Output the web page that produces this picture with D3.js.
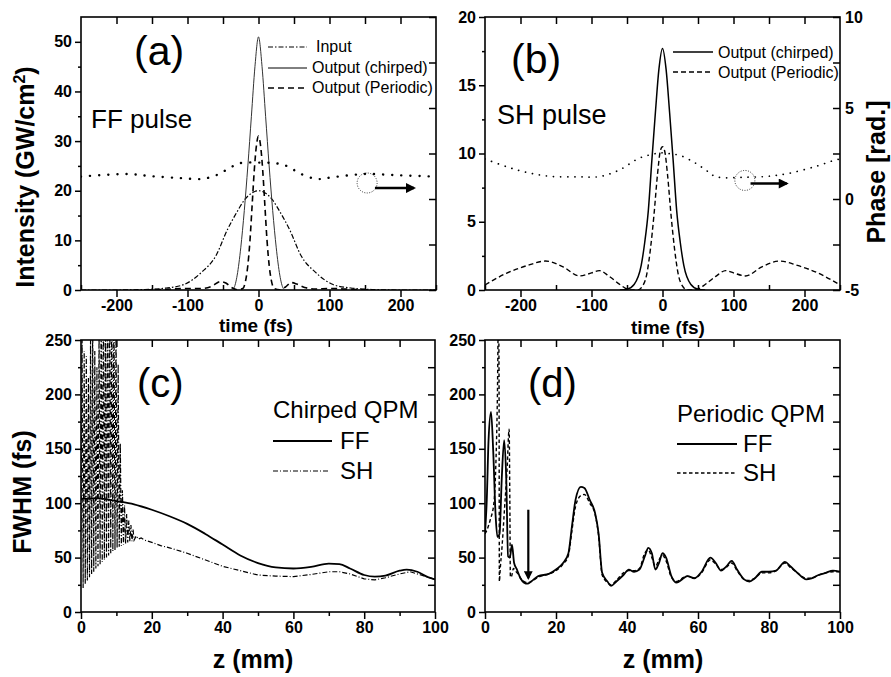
<!DOCTYPE html>
<html>
<head>
<meta charset="utf-8">
<script src="https://cdn.jsdelivr.net/npm/d3@7"></script>
<style>
  body { margin: 0; background: #fff; }
  svg { display: block; font-family: Arial, "Liberation Sans", sans-serif; }
</style>
</head>
<body>
<svg id="chart" width="891" height="677"></svg>
<script>
// ---------- Daten ----------
// (a) FF-Puls: Zeit in fs, Intensität in GW/cm², Phase in rad
const inputT  = [-250,-200,-160,-130,-105,-80,-60,-44,-30,-20,-10,0,10,20,30,44,60,80,105,130,160,200,250];
const inputI  = [0,0,0.1,0.4,1.1,3.6,6.9,12.1,15.8,18.1,19.5,20,19.5,18.1,15.8,12.1,6.9,3.6,1.1,0.4,0.1,0,0];
const ffChirpT = [-45,-38,-35,-30,-25,-20,-15,-10,-5,0,5,10,15,20,25,30,35,38,45];
const ffChirpI = [0,0,0.3,3,8.5,16,25,35,45,51,45,35,25,16,8.5,3,0.3,0,0];
const ffPerT  = [-160,-130,-100,-80,-65,-54,-46,-38,-30,-22,-18,-15,-12,-9,-6,-3,0,3,6,9,12,15,18,22,30,38,46,54,65,80,100,130,160];
const ffPerI  = [0,0.15,0.3,0.3,0.8,1.7,1.4,0.5,0.05,0.3,2,5,10,17,24,29,31,29,24,17,10,5,2,0.3,0.05,0.6,1.5,1.2,0.5,0.2,0.3,0.15,0];
const ffPhaseT = [-250,-185,-150,-110,-80,-60,-45,-27,0,25,42,58,82,105,150,200,250];
const ffPhase  = [1.23,1.37,1.25,1.15,1.1,1.3,1.6,1.96,2.0,1.96,1.78,1.41,1.1,1.2,1.37,1.3,1.23];

// (b) SH-Puls
const shChirpT = [-60,-50,-40,-30,-25,-20,-15,-10,-5,0,5,10,15,20,25,30,40,50,60];
const shChirpI = [0,0.05,0.4,1.8,3.5,5.8,9.5,13,16.2,17.7,16.2,13,9.5,5.8,3.5,1.8,0.4,0.05,0];
const shPerT  = [-250,-220,-190,-165,-140,-117,-100,-89,-75,-60,-52,-45,-35,-28,-22,-17,-12,-7,-3,0,3,7,12,17,22,28,35,45,52,60,75,89,100,117,140,165,190,220,250];
const shPerI  = [0.37,1.22,1.8,2.12,1.7,1.03,1.25,1.42,1.0,0.4,0.12,0,0,0.3,1.2,3,5.5,8.5,10.2,10.5,10.2,8.5,5.5,3,1.2,0.3,0,0,0.12,0.4,1.0,1.42,1.25,1.03,1.7,2.12,1.8,1.22,0.37];
const shPhaseT = [-250,-220,-192,-160,-120,-89,-61,-33,-15,0,15,23,47,61,75,120,150,178,215,243,250];
const shPhase  = [2.2,1.78,1.47,1.25,1.22,1.23,1.59,2.24,2.45,2.54,2.45,2.42,1.96,1.59,1.23,1.2,1.25,1.41,1.78,2.14,2.2];

// (c) gechirpte QPM: z in mm, FWHM in fs
const cFFz = [0,5,10,15,20,25,30,35,40,45,50,55,60,65,70,73,76,80,83,86,90,92,95,98,100];
const cFF  = [104,104.5,102,99,94,88,81,72,62,52,45,41,40,41.5,44.5,44,40,34,32.5,33.5,38,39,37,32,30];
const cSHz = [0,0.3,0.6,0.9,1.2,1.5,1.8,2.1,2.4,2.7,3.0,3.3,3.6,3.9,4.2,4.5,4.8,5.1,5.4,5.7,6.0,6.3,6.6,6.9,7.2,7.5,7.8,8.1,8.4,8.7,9.0,9.3,9.6,9.9,10.2,10.5,10.8,11.1,11.4,11.7,12.0,12.3,12.6,12.9,13.2,13.5,13.8,14.1,14.4,14.7,15.0,15.6,16.2,17,18,20,22.5,25,30,35,40,45,50,55,60,65,70,73,76,80,83,86,90,93,96,100];
const cSH  = [75,260,22,240,26,235,29,215,32,250,35,270,37,240,40,225,42,260,44,290,46,300,48,280,50,300,52,320,54,300,56,290,57,265,59,228,60,155,61,112,62,98,63,90,64,84,65,80,65,76,66,70,67,68,66,64,61,59,54,48,42,38,34,33,32.5,34.5,37,37,35,30.5,29.5,31.5,35,37,34,30];

// (d) periodische QPM
const dFFz = [0,0.5,1,1.7,2.3,3,3.5,4.1,4.7,5.4,6,6.5,7,7.6,8.2,9,10,11,12,13,15,18,20,22,23.5,24.5,25.5,27,28,29.5,31,32,33,34.5,35.5,37,39,40.5,42,43.5,45,46,47,48,49,50,51,52.5,54,55.5,57,59,61,63.5,65,66.5,68,69.5,71,73,74.5,76,78,80,82,84.5,86,88,90.5,92,94,96,98,100];
const dFF  = [72,103,158,184,149,88,69,72,121,158,121,51,50,62,45,39,31,27,26,28,33,35,39,45,54,79,103,115,114,103,91,72,36,28,24,28,34,39,37,39,51,59,54,39,45,54,50,33,27,30,33,31,37,50,45,38,42,47,39,30,28,31,37,37,38,46,42,36,30,31,34,36,38,37];
const dSHz = [0,0.5,1.5,2.5,3,3.5,3.8,3.95,4.05,4.3,4.8,5.5,6.2,6.8,7,7.15,7.5,8,8.5,9.5,10,11,12,13,15,18,20,22,23.5,24.5,25.5,27,28,29.5,31,32,33,34.5,35.5,37,39,40.5,42,43.5,45,46,47,48,49,50,51,52.5,54,55.5,57,59,61,63.5,65,66.5,68,69.5,71,73,74.5,76,78,80,82,84.5,86,88,90.5,92,94,96,98,100];
const dSH  = [72,75,85,100,130,200,280,220,28,40,60,95,130,168,100,32,33,40,38,34,31,28,27,28,32,35,38,44,52,75,97,107,108,100,90,70,34,27,25,29,36,38,38,40,54,57,50,42,48,52,47,32,28,31,33,31,36,48,44,39,41,45,38,30,29,31,36,36,38,45,41,36,31,31,34,36,37,37];

const svg = d3.select("#chart");
const defs = svg.append("defs");
defs.append("marker")
  .attr("id", "arrow")
  .attr("viewBox", "0 0 10 10")
  .attr("refX", 8).attr("refY", 5)
  .attr("markerWidth", 4.5).attr("markerHeight", 4)
  .attr("orient", "auto")
  .append("path").attr("d", "M0,0L10,5L0,10Z").attr("fill", "#000");

// Achsen-Stil
function styleAxis(sel) {
  sel.select(".domain").remove();
  sel.selectAll("line").attr("stroke", "#000").attr("stroke-width", 1.5);
  sel.selectAll("text")
    .attr("fill", "#000")
    .attr("font-size", "16px")
    .attr("font-weight", "bold")
    .attr("font-family", "Arial, 'Liberation Sans', sans-serif");
}
const fmt = d => String(d);

// Rahmen mit allen vier Achsen
function drawFrame(id, x, y, o) {
  const [x0, x1] = x.range();
  const [yb, yt] = y.range();
  const g = svg.append("g");

  defs.append("clipPath").attr("id", id)
    .append("rect").attr("x", x0).attr("y", yt).attr("width", x1 - x0).attr("height", yb - yt);

  g.append("g").attr("transform", `translate(0,${yb})`)
    .call(d3.axisBottom(x).tickValues(o.xMajor).tickSize(7).tickPadding(3).tickFormat(fmt))
    .call(styleAxis);
  g.append("g").attr("transform", `translate(0,${yb})`)
    .call(d3.axisBottom(x).tickValues(o.xMinor).tickSize(o.minorIn ? -5 : 4).tickFormat(""))
    .call(styleAxis);
  g.append("g").attr("transform", `translate(0,${yt})`)
    .call(d3.axisTop(x).tickValues(o.xTop).tickSize(-7).tickFormat(""))
    .call(styleAxis);
  g.append("g").attr("transform", `translate(${x0},0)`)
    .call(d3.axisLeft(y).tickValues(o.yMajor).tickSize(6).tickPadding(3).tickFormat(fmt))
    .call(styleAxis);
  g.append("g").attr("transform", `translate(${x0},0)`)
    .call(d3.axisLeft(y).tickValues(o.yMinor).tickSize(3).tickFormat(""))
    .call(styleAxis);
  const yr = o.yRight || y;
  g.append("g").attr("transform", `translate(${x1},0)`)
    .call(d3.axisRight(yr).tickValues(o.rTicks).tickSize(-7).tickPadding(5)
      .tickFormat(d => o.rLabels && o.rLabels.includes(d) ? fmt(d) : ""))
    .call(styleAxis);

  g.append("rect")
    .attr("x", x0).attr("y", yt)
    .attr("width", x1 - x0).attr("height", yb - yt)
    .attr("fill", "none").attr("stroke", "#000").attr("stroke-width", 1.6);
  return g;
}

function plotLine(clip, xs, ys, x, y, style, curve) {
  const pts = xs.map((v, i) => [v, ys[i]]);
  svg.append("path")
    .datum(pts)
    .attr("clip-path", `url(#${clip})`)
    .attr("fill", "none")
    .attr("stroke", style.color || "#000")
    .attr("stroke-width", style.width)
    .attr("stroke-dasharray", style.dash || null)
    .attr("stroke-linecap", style.cap || "butt")
    .attr("d", d3.line().x(d => x(d[0])).y(d => y(d[1])).curve(curve || d3.curveMonotoneX));
}

function label(txt, x, y, size, opts = {}) {
  const t = svg.append("text")
    .attr("x", x).attr("y", y)
    .attr("font-size", size + "px")
    .attr("font-weight", opts.bold ? "bold" : "normal")
    .attr("text-anchor", opts.anchor || "start")
    .attr("fill", "#000");
  if (opts.rotate) t.attr("transform", `rotate(-90,${x},${y})`);
  t.text(txt);
  return t;
}

function legendLine(x1, x2, yy, style) {
  svg.append("line")
    .attr("x1", x1).attr("x2", x2).attr("y1", yy).attr("y2", yy)
    .attr("stroke", "#000")
    .attr("stroke-width", style.width)
    .attr("stroke-dasharray", style.dash || null);
}

// Stile
const sInput   = { width: 1.2, dash: "5,2,1.5,2" };
const sChirpA  = { width: 1, color: "#333" };
const sPerA    = { width: 1.6, dash: "6,4" };
const sPhaseA  = { width: 2.4, dash: "0.1,9", cap: "round" };
const sChirpB  = { width: 1.5 };
const sPerB    = { width: 1.4, dash: "5,3" };
const sPhaseB  = { width: 1.7, dash: "0.1,7", cap: "round" };
const sFF      = { width: 1.8 };
const sSHc     = { width: 1.2, dash: "5,2,1,2" };
const sSHd     = { width: 1.4, dash: "3.5,2.5" };

const tMajor = [-200,-100,0,100,200];
const tMinor = [-250,-150,-50,50,150,250];
const tTop   = [-200,-150,-100,-50,0,50,100,150,200];
const phTicks = [-5,-2.5,0,2.5,5,7.5,10];

// ---------- (a) ----------
const xa = d3.scaleLinear().domain([-250, 250]).range([81, 436]);
const ya = d3.scaleLinear().domain([0, 55]).range([290, 17]);
const pa = d3.scaleLinear().domain([-5, 10]).range([290, 17]);
drawFrame("clipA", xa, ya, {
  xMajor: tMajor, xMinor: tMinor, xTop: tTop, minorIn: true,
  yMajor: [0,10,20,30,40,50], yMinor: [5,15,25,35,45],
  yRight: pa, rTicks: phTicks
});
plotLine("clipA", inputT, inputI, xa, ya, sInput);
plotLine("clipA", ffChirpT, ffChirpI, xa, ya, sChirpA);
plotLine("clipA", ffPerT, ffPerI, xa, ya, sPerA);
plotLine("clipA", ffPhaseT, ffPhase, xa, pa, sPhaseA, d3.curveCatmullRom);

svg.append("circle").attr("cx", xa(153)).attr("cy", pa(0.88)).attr("r", 10)
  .attr("fill", "none").attr("stroke", "#000").attr("stroke-width", 0.8).attr("stroke-dasharray", "1,1.5");
svg.append("line").attr("x1", xa(164)).attr("x2", xa(219)).attr("y1", pa(0.6)).attr("y2", pa(0.6))
  .attr("stroke", "#000").attr("stroke-width", 2.5).attr("marker-end", "url(#arrow)");

legendLine(268, 307, 47, sInput);
legendLine(268, 307, 68, sChirpA);
legendLine(268, 307, 88, sPerA);
label("Input", 316, 52, 16);
label("Output (chirped)", 312, 73, 16);
label("Output (Periodic)", 312, 93, 16);
label("(a)", 134, 65, 41);
label("FF pulse", 91, 128, 26);
label("time (fs)", 256, 332, 19, { bold: true, anchor: "middle" });
const intens = label("Intensity (GW/cm", 34, 177, 25, { bold: true, anchor: "middle", rotate: true });
intens.append("tspan").attr("dy", -9).attr("font-size", "16px").text("2");
intens.append("tspan").attr("dy", 9).text(")");

// ---------- (b) ----------
const xb = d3.scaleLinear().domain([-250, 250]).range([485, 840]);
const yb = d3.scaleLinear().domain([0, 20]).range([290, 17]);
const pb = d3.scaleLinear().domain([-5, 10]).range([290, 17]);
drawFrame("clipB", xb, yb, {
  xMajor: tMajor, xMinor: tMinor, xTop: tTop, minorIn: true,
  yMajor: [0,5,10,15,20], yMinor: [2.5,7.5,12.5,17.5],
  yRight: pb, rTicks: phTicks, rLabels: [-5,0,5,10]
});
plotLine("clipB", shChirpT, shChirpI, xb, yb, sChirpB);
plotLine("clipB", shPerT, shPerI, xb, yb, sPerB);
plotLine("clipB", shPhaseT, shPhase, xb, pb, sPhaseB, d3.curveCatmullRom);

svg.append("circle").attr("cx", xb(116)).attr("cy", pb(1.02)).attr("r", 10)
  .attr("fill", "none").attr("stroke", "#000").attr("stroke-width", 0.8).attr("stroke-dasharray", "1,1.5");
svg.append("line").attr("x1", xb(124)).attr("x2", xb(175)).attr("y1", pb(0.85)).attr("y2", pb(0.85))
  .attr("stroke", "#000").attr("stroke-width", 2.5).attr("marker-end", "url(#arrow)");

legendLine(673, 713, 52, sChirpB);
legendLine(673, 713, 72, sPerB);
label("Output (chirped)", 718, 58, 16);
label("Output (Periodic)", 718, 78, 16);
label("(b)", 511, 73, 41);
label("SH pulse", 497, 124, 27);
label("time (fs)", 668, 334, 19, { bold: true, anchor: "middle" });
label("Phase [rad.]", 885, 172, 25, { bold: true, anchor: "middle", rotate: true });

// ---------- (c) ----------
const zMajor = [0,20,40,60,80,100];
const zMinor = [10,30,50,70,90];
const zTop   = [10,20,30,40,50,60,70,80,90];
const wMajor = [0,50,100,150,200,250];
const wMinor = [25,75,125,175,225];
const wRight = [25,50,75,100,125,150,175,200,225];

const xc = d3.scaleLinear().domain([0, 100]).range([81, 435]);
const yc = d3.scaleLinear().domain([0, 250]).range([612, 340]);
drawFrame("clipC", xc, yc, {
  xMajor: zMajor, xMinor: zMinor, xTop: zTop,
  yMajor: wMajor, yMinor: wMinor, rTicks: wRight
});
plotLine("clipC", cSHz, cSH, xc, yc, sSHc, d3.curveLinear);
plotLine("clipC", cFFz, cFF, xc, yc, sFF);

label("(c)", 137, 397, 40);
label("Chirped QPM", 273, 418, 24);
legendLine(273, 332, 441, sFF);
legendLine(273, 330, 471, sSHc);
label("FF", 340, 449, 24);
label("SH", 340, 479, 24);
label("z (mm)", 253, 668, 25, { bold: true, anchor: "middle" });
label("FWHM (fs)", 31, 492, 25, { bold: true, anchor: "middle", rotate: true });

// ---------- (d) ----------
const xd = d3.scaleLinear().domain([0, 100]).range([485, 840]);
const yd = d3.scaleLinear().domain([0, 250]).range([612, 340]);
drawFrame("clipD", xd, yd, {
  xMajor: zMajor, xMinor: zMinor, xTop: zTop,
  yMajor: wMajor, yMinor: wMinor, rTicks: wRight
});
plotLine("clipD", dSHz, dSH, xd, yd, sSHd);
plotLine("clipD", dFFz, dFF, xd, yd, sFF);

svg.append("line").attr("x1", xd(12.2)).attr("x2", xd(12.2)).attr("y1", yd(94)).attr("y2", yd(31))
  .attr("stroke", "#000").attr("stroke-width", 2.2).attr("marker-end", "url(#arrow)");

label("(d)", 528, 397, 40);
label("Periodic QPM", 677, 422, 24);
legendLine(677, 737, 444, sFF);
legendLine(677, 735, 473, sSHd);
label("FF", 743, 452, 24);
label("SH", 743, 481, 24);
label("z (mm)", 663, 668, 25, { bold: true, anchor: "middle" });
</script>
</body>
</html>
